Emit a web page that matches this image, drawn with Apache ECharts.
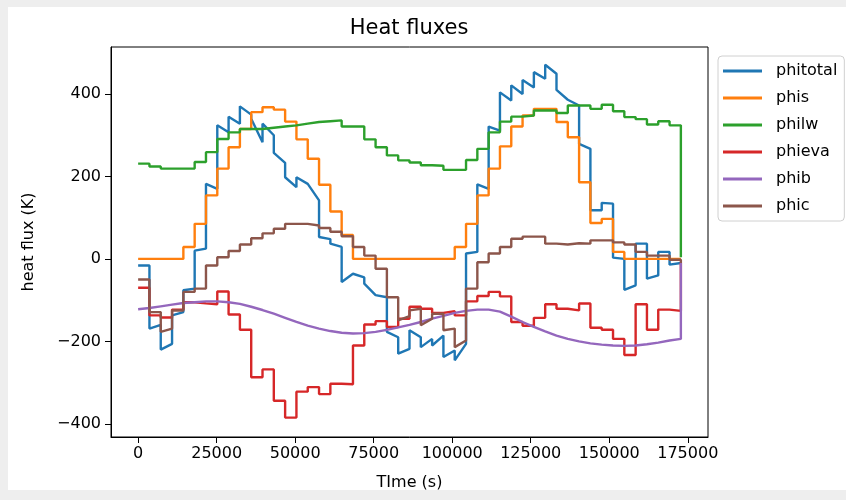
<!DOCTYPE html>
<html>
<head>
<meta charset="utf-8">
<script src="https://cdn.jsdelivr.net/npm/echarts@6/dist/echarts.min.js"></script>
<style>
  html, body { margin: 0; padding: 0; background: #eeeeee; }
  #chart { position: absolute; left: 8px; top: 7px; width: 838px; height: 483px; background: #ffffff; }
</style>
</head>
<body>
<div id="chart"></div>
<script>
// one value per hour (48 h simulation), plus the value of the very last sample
const hourSeconds = 3600;

const xTicks = [0, 25000, 50000, 75000, 100000, 125000, 150000, 175000];
const yTicks = [-400, -200, 0, 200, 400];

const seriesNames = ['phitotal', 'phis', 'philw', 'phieva', 'phib', 'phic'];
const colors = ['#1f77b4', '#ff7f0e', '#2ca02c', '#d62728', '#9467bd', '#8c564b'];

// phitotal drifts inside each hour: value at start and at end of the hour
const phitotalStart = [-16, -169, -220, -137, -76, 20, 182, 324, 345, 370,
  340, 328, 257, 198, 198, 178, 53, 37, -56, -40,
  -60, -88, -177, -230, -173, -214, -210, -238, -246, 13,
  181, 321, 404, 421, 434, 453, 471, 410, 384, 279,
  118, 136, 3, -75, 37, -48, 17, -14];
const phitotalEnd = [-16, -160, -206, -129, -72, 25, 170, 307, 328, 350,
  283, 300, 233, 174, 182, 142, 48, 29, -36, -45,
  -88, -93, -190, -218, -190, -194, -186, -222, -206, 17,
  170, 311, 384, 400, 416, 437, 449, 386, 372, 267,
  118, 134, 0, -64, 37, -40, 17, -10];
const phitotalLast = -10;

const phis = [0, 0, 0, 0, 29, 85, 154, 219, 271, 315,
  356, 368, 362, 333, 290, 243, 180, 115, 58, 0,
  0, 0, 0, 0, 0, 0, 0, 0, 29, 85,
  154, 219, 273, 321, 348, 364, 364, 332, 295, 186,
  87, 97, 17, 0, 0, 0, 0, 0];
const phisLast = 0;

const philw = [231, 224, 219, 219, 219, 235, 259, 291, 307, 315,
  315, 318, 321, 324, 328, 332, 334, 336, 321, 321,
  290, 271, 251, 239, 234, 227, 226, 216, 216, 240,
  267, 307, 333, 345, 348, 360, 360, 354, 372, 372,
  364, 374, 358, 344, 339, 326, 334, 324];
const philwLast = 4;

const phieva = [-70, -137, -142, -123, -105, -108, -110, -79, -135, -172,
  -287, -268, -344, -385, -322, -311, -328, -303, -304, -210,
  -159, -151, -165, -145, -116, -121, -131, -127, -137, -103,
  -90, -80, -91, -153, -162, -143, -110, -121, -125, -108,
  -167, -172, -194, -233, -110, -172, -123, -126];
const phievaLast = -10;

// phib is smooth: sampled on the hour, 0 h .. 48 h
const phib = [-122, -119, -115, -111, -107, -105, -103, -103, -105, -109,
  -116, -124, -133, -143, -153, -162, -169, -175, -179, -181,
  -180, -177, -172, -166, -160, -153, -145, -138, -131, -126,
  -123, -123, -128, -140, -153, -165, -176, -186, -194, -200,
  -205, -208, -210, -211, -210, -207, -203, -198, -194];
const phibLast = -10;

const phicStart = [-50, -129, -177, -125, -80, -72, -16, 4, 19, 35,
  50, 62, 73, 85, 85, 81, 75, 66, 55, 29,
  8, -24, -93, -149, -125, -161, -133, -173, -214, -72,
  -8, 13, 29, 49, 54, 54, 37, 35, 38, 37,
  45, 45, 40, 35, 17, 8, 8, -2];
const phicEnd = [-50, -129, -169, -125, -80, -72, -16, 4, 19, 35,
  50, 62, 73, 85, 85, 81, 75, 66, 55, 29,
  8, -24, -93, -139, -121, -145, -133, -169, -198, -72,
  -8, 13, 29, 49, 54, 54, 37, 35, 38, 37,
  45, 45, 40, 35, 17, 8, 8, -2];
const phicLast = -10;

function hourSteps(startVals, endVals, last) {
  const pts = [];
  startVals.forEach((v, h) => {
    pts.push([h * hourSeconds, v]);
    pts.push([(h + 1) * hourSeconds, endVals[h]]);
  });
  pts.push([startVals.length * hourSeconds, last]);
  return pts;
}

function hourCurve(vals, last) {
  const pts = vals.map((v, h) => [h * hourSeconds, v]);
  pts.push([(vals.length - 1) * hourSeconds, last]);
  return pts;
}

const seriesData = [
  hourSteps(phitotalStart, phitotalEnd, phitotalLast),
  hourSteps(phis, phis, phisLast),
  hourSteps(philw, philw, philwLast),
  hourSteps(phieva, phieva, phievaLast),
  hourCurve(phib, phibLast),
  hourSteps(phicStart, phicEnd, phicLast)
];

const font = 'DejaVu Sans';
// matplotlib writes a real minus sign and no thousands separator
const tickText = v => (v < 0 ? '\u2212' + (-v) : String(v));

const chart = echarts.init(document.getElementById('chart'));
chart.setOption({
  animation: false,
  backgroundColor: '#ffffff',
  textStyle: { fontFamily: font },
  graphic: [{
    type: 'text',
    x: 401,
    y: 22,
    style: {
      text: 'Heat fluxes',
      fill: '#000',
      font: '21px "DejaVu Sans"',
      align: 'center',
      verticalAlign: 'middle'
    }
  }],
  grid: {
    left: 103,
    right: 138,
    top: 40,
    bottom: 53,
    show: true,
    borderColor: '#000',
    borderWidth: 1,
    containLabel: false,
    outerBoundsMode: 'none'
  },
  legend: {
    orient: 'vertical',
    left: 710,
    top: 49,
    padding: [6, 7, 6, 5],
    itemWidth: 39,
    itemHeight: 3,
    itemGap: 9,
    icon: 'rect',
    backgroundColor: '#fff',
    borderColor: '#d0d0d0',
    borderWidth: 1,
    borderRadius: 4,
    textStyle: { fontFamily: font, fontSize: 16, color: '#000', lineHeight: 18, padding: [0, 0, 0, 9] },
    data: seriesNames
  },
  xAxis: {
    type: 'value',
    min: -8640,
    max: 181440,
    name: 'TIme (s)',
    nameLocation: 'middle',
    nameGap: 38,
    nameTextStyle: { fontFamily: font, fontSize: 16, color: '#000' },
    axisLine: { show: true, onZero: false, lineStyle: { color: '#000', width: 1 } },
    axisTick: { show: true, length: 6, customValues: xTicks, lineStyle: { color: '#000' } },
    axisLabel: { customValues: xTicks, margin: 9, fontFamily: font, fontSize: 16, color: '#000', formatter: tickText },
    splitLine: { show: false }
  },
  yAxis: {
    type: 'value',
    min: -432,
    max: 514,
    name: 'heat flux (K)',
    nameLocation: 'middle',
    nameGap: 74,
    nameTextStyle: { fontFamily: font, fontSize: 16, color: '#000' },
    axisLine: { show: true, onZero: false, lineStyle: { color: '#000', width: 1 } },
    axisTick: { show: true, length: 6, customValues: yTicks, lineStyle: { color: '#000' } },
    axisLabel: { customValues: yTicks, margin: 10, fontFamily: font, fontSize: 16, color: '#000', formatter: tickText },
    splitLine: { show: false }
  },
  series: seriesNames.map((name, i) => ({
    name: name,
    type: 'line',
    data: seriesData[i],
    showSymbol: false,
    symbol: 'none',
    color: colors[i],
    lineStyle: { width: 2.4, color: colors[i] },
    clip: true
  }))
});
</script>
</body>
</html>
